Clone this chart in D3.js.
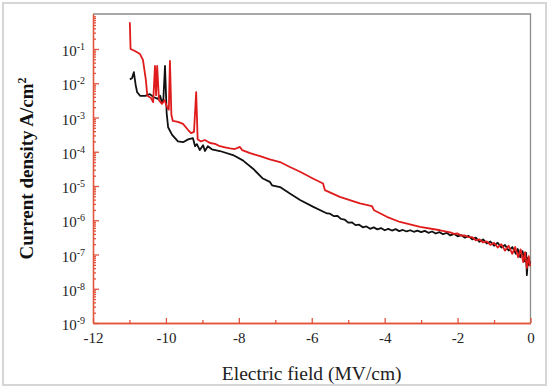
<!DOCTYPE html>
<html>
<head>
<meta charset="utf-8">
<script src="https://cdn.jsdelivr.net/npm/d3@7"></script>
<style>
  body { margin: 0; background: #fff; }
</style>
</head>
<body>
<div id="chart"></div>
<script>
// x ticks (MV/cm) and y decades (A/cm^2)
const fieldTicks = [-12, -10, -8, -6, -4, -2, 0]
const fieldMinor = [-11, -9, -7, -5, -3, -1]
const decadeTicks = [1e-9, 1e-8, 1e-7, 1e-6, 1e-5, 1e-4, 1e-3, 1e-2, 1e-1]

// black curve
const blackField = [-10.99, -10.93, -10.88, -10.83, -10.79, -10.71, -10.57, -10.44, -10.33, -10.22, -10.16, -10.11, -10.07,
  -10.025, -9.98, -9.94, -9.83, -9.67, -9.53, -9.39, -9.26, -9.2, -9.15, -9.07, -8.98, -8.93, -8.85, -8.74, -8.52,
  -8.16, -7.89, -7.61, -7.34, -7.15, -7.09, -6.87, -6.6, -6.32, -5.97, -5.58,
  -5.5, -5.4, -5.3, -5.2, -5.1, -5.0, -4.9, -4.8, -4.7, -4.6, -4.5, -4.4, -4.3, -4.2, -4.1, -4.0, -3.9, -3.8, -3.7,
  -3.6, -3.5, -3.4, -3.3, -3.2, -3.1, -3.0, -2.9, -2.8, -2.7, -2.6, -2.5, -2.4, -2.3, -2.2, -2.1, -2.0, -1.9, -1.8,
  -1.7, -1.6, -1.5, -1.4, -1.3, -1.2, -1.1, -1.0, -0.9, -0.8, -0.7, -0.6, -0.5, -0.4, -0.35, -0.28, -0.22, -0.16,
  -0.12, -0.1, -0.07, -0.04, -0.01]
const blackJ = [1.3e-2, 1.4e-2, 2.1e-2, 8.9e-3, 5.5e-3, 4.3e-3, 4.3e-3, 4.8e-3, 3.9e-3, 3.5e-3, 4.3e-3, 2.8e-3, 3.4e-3,
  3.2e-2, 1.35e-3, 5.2e-4, 3.1e-4, 2.0e-4, 1.9e-4, 2.3e-4, 2.5e-4, 1.45e-4, 1.66e-4, 1.12e-4, 1.55e-4, 1.05e-4, 1.45e-4, 1.18e-4, 1.05e-4,
  8.0e-5, 5.6e-5, 3.2e-5, 1.65e-5, 1.32e-5, 1.05e-5, 9.3e-6, 6.0e-6, 3.9e-6, 2.5e-6, 1.58e-6,
  1.55e-6, 1.32e-6, 1.35e-6, 1.1e-6, 1.05e-6, 8.5e-7, 8.7e-7, 7.2e-7, 7.4e-7, 6.2e-7, 6.6e-7, 5.6e-7, 6.2e-7, 5.4e-7, 5.9e-7, 5.1e-7, 5.6e-7, 5.0e-7, 5.5e-7,
  4.8e-7, 5.2e-7, 4.7e-7, 5.1e-7, 4.6e-7, 5.0e-7, 4.5e-7, 4.9e-7, 4.3e-7, 4.7e-7, 4.1e-7, 4.5e-7, 3.9e-7, 4.3e-7, 3.6e-7, 4.0e-7, 3.4e-7, 3.7e-7, 3.1e-7,
  3.5e-7, 2.75e-7, 3.1e-7, 2.35e-7, 2.75e-7, 2.1e-7, 2.4e-7, 1.8e-7, 2.2e-7, 1.6e-7, 1.9e-7, 1.3e-7, 1.65e-7, 1.05e-7, 1.45e-7, 8.3e-8, 1.26e-7, 6.3e-8,
  1.12e-7, 2.5e-8, 7.9e-8, 5.0e-8, 6.3e-8]

// red curve
const redField = [-10.99, -10.97, -10.85, -10.71, -10.63, -10.55, -10.51, -10.41, -10.35, -10.30, -10.27, -10.24, -10.19,
  -10.11, -10.03, -9.97, -9.92, -9.89, -9.85, -9.81, -9.67, -9.53, -9.39, -9.31, -9.23, -9.17, -9.13, -9.04, -8.93,
  -8.79, -8.65, -8.52, -8.38, -8.24, -8.11, -7.97, -7.91, -7.69, -7.42, -7.15, -6.87, -6.6, -6.32, -5.97, -5.69, -5.64,
  -5.23, -4.68, -4.35, -4.29, -3.94, -3.58, -3.03, -2.48,
  -2.2, -2.1, -2.0, -1.9, -1.8, -1.7, -1.6, -1.5, -1.4, -1.3, -1.2, -1.1, -1.0, -0.9, -0.8, -0.7, -0.6, -0.5,
  -0.42, -0.34, -0.27, -0.2, -0.15, -0.1, -0.05, -0.01]
const redJ = [0.6, 0.1, 0.087, 0.071, 0.048, 0.0125, 4.3e-3, 3.7e-3, 2.8e-3, 3.2e-2, 4.5e-3, 3.2e-2, 3.2e-3,
  2.5e-3, 3.2e-3, 2.0e-3, 1.7e-3, 4.5e-2, 1.2e-3, 7.9e-4, 7.4e-4, 6.5e-4, 4.3e-4, 3.5e-4, 3.8e-4, 5.5e-3, 2.3e-4, 2.0e-4, 2.2e-4,
  1.8e-4, 1.7e-4, 1.45e-4, 1.35e-4, 1.26e-4, 1.2e-4, 1.38e-4, 1.12e-4, 9.1e-5, 7.4e-5, 6.0e-5, 5.0e-5, 3.6e-5, 2.6e-5, 1.66e-5, 1.18e-5, 7.6e-6,
  4.8e-6, 3.1e-6, 2.6e-6, 1.95e-6, 1.26e-6, 8.9e-7, 6.4e-7, 5.1e-7,
  4.4e-7, 4.0e-7, 4.1e-7, 3.55e-7, 3.6e-7, 3.2e-7, 3.2e-7, 2.6e-7, 2.75e-7, 2.25e-7, 2.4e-7, 1.9e-7, 2.2e-7, 1.6e-7, 2.0e-7, 1.3e-7, 1.8e-7, 1.05e-7,
  1.65e-7, 8.3e-8, 1.41e-7, 6.0e-8, 1.17e-7, 4.0e-8, 8.9e-8, 4.5e-8]

const width = 550, height = 390
const plot = {left: 93, right: 530.5, top: 14, bottom: 323}
const axisRed = "#e2533e"
const serif = '"Liberation Serif", "Times New Roman", serif'

const svg = d3.select("#chart").append("svg")
  .attr("width", width)
  .attr("height", height)
  .attr("font-family", serif)

// outer frame
svg.append("rect")
  .attr("x", 3).attr("y", 3)
  .attr("width", 543).attr("height", 382)
  .attr("fill", "#fff")
  .attr("stroke", "#d6d6d6")
  .attr("stroke-width", 2)

const x = d3.scaleLinear().domain([-12, 0]).range([plot.left, plot.right])
const y = d3.scaleLog().domain([1e-9, 1.05]).range([plot.bottom, plot.top])

// top and right frame lines
svg.append("path")
  .attr("d", `M${plot.left},${plot.top}H${plot.right}V${plot.bottom}`)
  .attr("fill", "none")
  .attr("stroke", "#8c8c8c")
  .attr("stroke-width", 1.3)

// curves
const line = d3.line()
  .x(d => x(d[0]))
  .y(d => y(d[1]))

const series = [
  {name: "black", color: "#111", pts: d3.zip(blackField, blackJ)},
  {name: "red", color: "#e01b1b", pts: d3.zip(redField, redJ)}
]

svg.selectAll(".curve")
  .data(series)
  .join("path")
  .attr("class", "curve")
  .attr("d", d => line(d.pts))
  .attr("fill", "none")
  .attr("stroke", d => d.color)
  .attr("stroke-width", 1.8)
  .attr("stroke-linejoin", "round")

// y minor ticks
const minorY = []
decadeTicks.forEach(d => { for (let k = 2; k <= 9; k++) if (d * k <= 1.05) minorY.push(d * k) })

svg.append("g")
  .attr("transform", `translate(${plot.left},0)`)
  .call(d3.axisLeft(y).tickValues(minorY).tickSize(-3).tickSizeOuter(0).tickFormat(""))

// y major ticks
const yAxis = svg.append("g")
  .attr("transform", `translate(${plot.left},0)`)
  .call(d3.axisLeft(y).tickValues(decadeTicks).tickSize(-6).tickSizeOuter(0).tickPadding(8))

yAxis.selectAll("text")
  .attr("font-size", 15)
  .attr("fill", "#222")
  .attr("dy", "0.45em")
  .each(function(d) {
    const t = d3.select(this).text("")
    t.append("tspan").text("10")
    t.append("tspan").attr("dy", "-0.6em").attr("font-size", 10).text(Math.round(Math.log10(d)))
  })

// x axis
svg.append("g")
  .attr("transform", `translate(0,${plot.bottom})`)
  .call(d3.axisBottom(x).tickValues(fieldMinor).tickSize(-3).tickSizeOuter(0).tickFormat(""))

const xAxis = svg.append("g")
  .attr("transform", `translate(0,${plot.bottom})`)
  .call(d3.axisBottom(x).tickValues(fieldTicks).tickSize(-5).tickSizeOuter(0).tickPadding(9).tickFormat(d => String(d)))

xAxis.selectAll("text")
  .attr("font-size", 15)
  .attr("fill", "#222")

svg.selectAll("g").attr("font-family", serif)

svg.selectAll(".domain, .tick line")
  .attr("stroke", axisRed)
  .attr("stroke-width", 1.3)

// axis titles
svg.append("text")
  .attr("x", (plot.left + plot.right) / 2)
  .attr("y", 380)
  .attr("text-anchor", "middle")
  .attr("font-size", 19.5)
  .attr("fill", "#222")
  .text("Electric field (MV/cm)")

const yTitle = svg.append("text")
  .attr("transform", `translate(33,${(plot.top + plot.bottom) / 2}) rotate(-90)`)
  .attr("text-anchor", "middle")
  .attr("font-size", 19)
  .attr("font-weight", "bold")
  .attr("fill", "#111")
yTitle.append("tspan").text("Current density A/cm")
yTitle.append("tspan").attr("dy", "-0.6em").attr("font-size", 12).text("2")
</script>
</body>
</html>
